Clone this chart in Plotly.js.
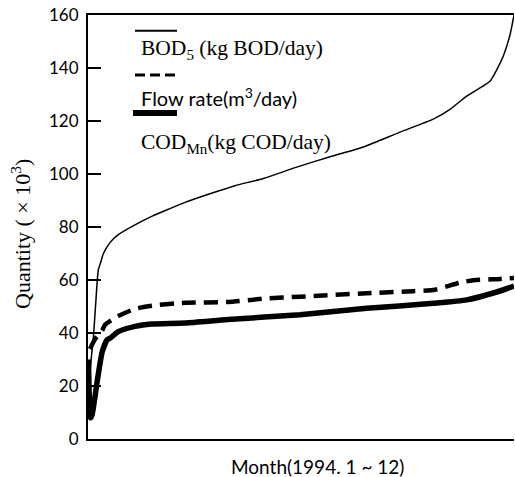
<!DOCTYPE html>
<html>
<head>
<meta charset="utf-8">
<script src="https://cdn.plot.ly/plotly-3.0.1.min.js"></script>
<style>html,body{margin:0;padding:0;background:#fff;}#chart{width:515px;height:477px;}</style>
</head>
<body>
<div id="chart"></div>
<script>
// Month position (1994, Jan = 1 ... Dec = 12)
const bodMonth = [1.026, 1.07, 1.137, 1.194, 1.266, 1.336, 1.395, 1.568, 1.782, 2.214, 2.645, 3.074, 3.505, 3.936, 4.365, 4.796, 5.527, 6.389, 7.249, 8.109, 9.056, 9.916, 10.348, 10.779, 11.122, 11.38, 11.553, 11.724, 11.897, 12.0];
const bodValue = [20, 28.5, 38, 50, 63.7, 67, 69.9, 74.1, 77.1, 80.8, 84.0, 86.7, 89.3, 91.5, 93.6, 95.6, 98.3, 102.6, 106.5, 110.2, 115.8, 120.7, 124.4, 129.4, 132.5, 135, 139.3, 144.5, 152.5, 160];

const flowMonth = [1.052, 1.137, 1.199, 1.369, 1.439, 1.671, 1.782, 2.214, 2.645, 3.505, 4.615, 5.57, 6.474, 8.196, 9.392, 9.916, 10.262, 10.606, 10.950, 11.639, 12.0];
const flowValue = [34, 36.5, 38, 41, 43.1, 45.5, 46.4, 49.1, 50.3, 51.4, 51.7, 53, 53.7, 55, 55.8, 56.2, 57.6, 59, 59.9, 60.4, 60.8];

const codMonth = [1.013, 1.065, 1.103, 1.24, 1.369, 1.498, 1.568, 1.782, 2.214, 2.645, 3.505, 4.615, 6.474, 8.196, 9.916, 10.779, 11.467, 12.0];
const codValue = [30, 8, 9, 22, 33, 37.5, 38, 40.5, 42.5, 43.4, 43.8, 45.1, 46.9, 49.3, 51.2, 52.5, 55.1, 57.7];

const yTicks = [0, 20, 40, 60, 80, 100, 120, 140, 160];

const legendNames = ["BOD<sub>5</sub> (kg BOD/day)", "Flow rate(m<sup>3</sup>/day)", "COD<sub>Mn</sub>(kg COD/day)"];

const serif = "Liberation Serif, Times New Roman, serif";
const sans = "Lato, DejaVu Sans, sans-serif";

const traces = [
  {x: bodMonth, y: bodValue, mode: "lines", line: {color: "#000", width: 1.5, shape: "spline", smoothing: 0.6}, showlegend: false},
  {x: flowMonth, y: flowValue, mode: "lines", line: {color: "#000", width: 4.5, dash: "14px,8px", shape: "spline", smoothing: 0.6}, showlegend: false},
  {x: codMonth, y: codValue, mode: "lines", line: {color: "#000", width: 5.5, shape: "spline", smoothing: 0.6}, showlegend: false}
];

const W = 426, H = 424;
function px(x){ return (x - 88) / W; }
function py(y){ return (439 - y) / H; }

const layout = {
  width: 515, height: 477,
  margin: {l: 88, r: 1, t: 15, b: 38},
  paper_bgcolor: "#fff", plot_bgcolor: "#fff",
  showlegend: false,
  xaxis: {range: [1, 12], showline: true, mirror: true, linecolor: "#000", linewidth: 2,
          showticklabels: false, ticks: "", showgrid: false, zeroline: false, fixedrange: true},
  yaxis: {range: [0, 160], showline: true, mirror: false, linecolor: "#000", linewidth: 2,
          tickvals: yTicks, ticktext: yTicks.map(String), ticks: "inside", ticklen: 13, tickwidth: 1.5, tickcolor: "#000",
          ticklabelstandoff: 4,
          tickfont: {family: sans, size: 17, color: "#000"}, showgrid: false, zeroline: false, fixedrange: true},
  shapes: [
    {type: "line", xref: "paper", yref: "paper", x0: px(135), x1: px(177), y0: py(30.7), y1: py(30.7), line: {color: "#000", width: 2}},
    {type: "line", xref: "paper", yref: "paper", x0: px(135), x1: px(177), y0: py(75), y1: py(75), line: {color: "#000", width: 3, dash: "10px,5px"}},
    {type: "line", xref: "paper", yref: "paper", x0: px(133), x1: px(177), y0: py(113), y1: py(113), line: {color: "#000", width: 6}}
  ],
  annotations: [
    {xref: "paper", yref: "paper", x: px(139), y: py(50), xanchor: "left", yanchor: "middle", showarrow: false,
     text: legendNames[0], font: {family: serif, size: 21.5, color: "#000"}},
    {xref: "paper", yref: "paper", x: px(139), y: py(97), xanchor: "left", yanchor: "middle", showarrow: false,
     text: legendNames[1], font: {family: sans, size: 20, color: "#000"}},
    {xref: "paper", yref: "paper", x: px(139), y: py(143), xanchor: "left", yanchor: "middle", showarrow: false,
     text: legendNames[2], font: {family: serif, size: 21.5, color: "#000"}},
    {xref: "paper", yref: "paper", x: px(21), y: py(234), xanchor: "center", yanchor: "middle", showarrow: false, textangle: -90,
     text: "Quantity ( × 10<sup>3</sup>)", font: {family: serif, size: 22, color: "#000"}},
    {xref: "paper", yref: "paper", x: px(317), y: py(466), xanchor: "center", yanchor: "middle", showarrow: false,
     text: "Month(1994. 1 ~ 12)", font: {family: sans, size: 19, color: "#000"}}
  ]
};

Plotly.newPlot("chart", traces, layout, {displayModeBar: false, staticPlot: true});
</script>
</body>
</html>
